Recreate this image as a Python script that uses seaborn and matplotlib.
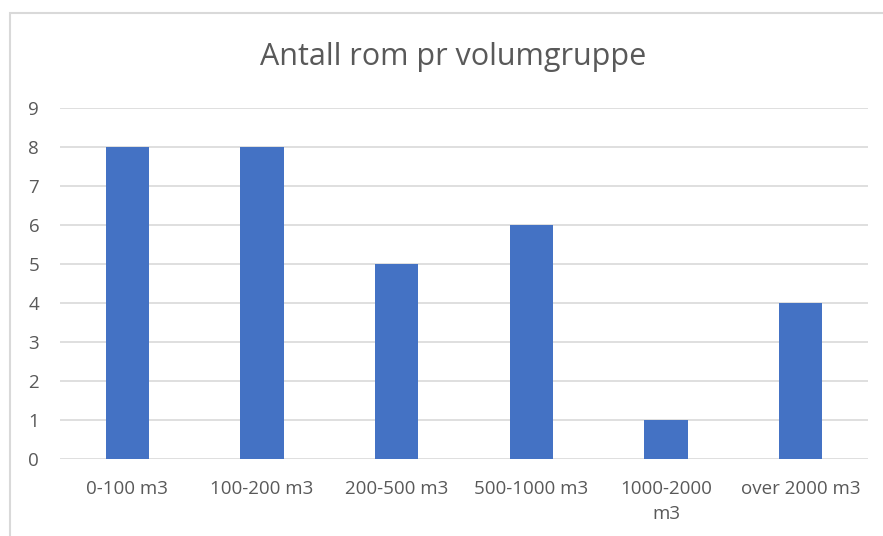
import matplotlib
matplotlib.use("Agg")
import matplotlib.pyplot as plt
import matplotlib.patches as patches
import seaborn as sns
import pandas as pd

categories = ["0-100 m3", "100-200 m3", "200-500 m3", "500-1000 m3", "1000-2000\nm3", "over 2000 m3"]
counts = [8, 8, 5, 6, 1, 4]

df = pd.DataFrame({"gruppe": categories, "antall": counts})

sns.set_theme(style="white")
plt.rcParams["font.family"] = ["Open Sans", "DejaVu Sans"]

text_col = "#595959"
grid_col = "#d9d9d9"

fig = plt.figure(figsize=(8.83, 5.36), dpi=100)
ax = fig.add_axes([60 / 883, 1 - 459 / 536, 808 / 883, 351 / 536])

sns.barplot(data=df, x="gruppe", y="antall", color="#4472C4", width=0.32,
            saturation=1, linewidth=0, ax=ax, zorder=3)

ax.set_ylim(0, 9)
ax.set_yticks(range(0, 10))
ax.yaxis.grid(True, color=grid_col, linewidth=1.2, zorder=0)
ax.set_axisbelow(True)
for s in ax.spines.values():
    s.set_visible(False)
ax.tick_params(axis="both", length=0, labelsize=13.5, colors=text_col)
ax.tick_params(axis="y", pad=15)
ax.tick_params(axis="x", pad=15)
ax.set_xlabel("")
ax.set_ylabel("")
for lbl in ax.get_xticklabels():
    lbl.set_linespacing(1.5)

fig.text(453 / 883, 1 - 57 / 536, "Antall rom pr volumgruppe", ha="center", va="center",
         fontsize=22, color=text_col)

# chart border (cropped at right/bottom)
fig.patches.append(patches.Rectangle((10 / 883, -0.1), 1.0, 1 - 13 / 536 + 0.1,
                                     transform=fig.transFigure, fill=False,
                                     edgecolor=grid_col, linewidth=1.5))

fig.savefig("out.png", dpi=100)
